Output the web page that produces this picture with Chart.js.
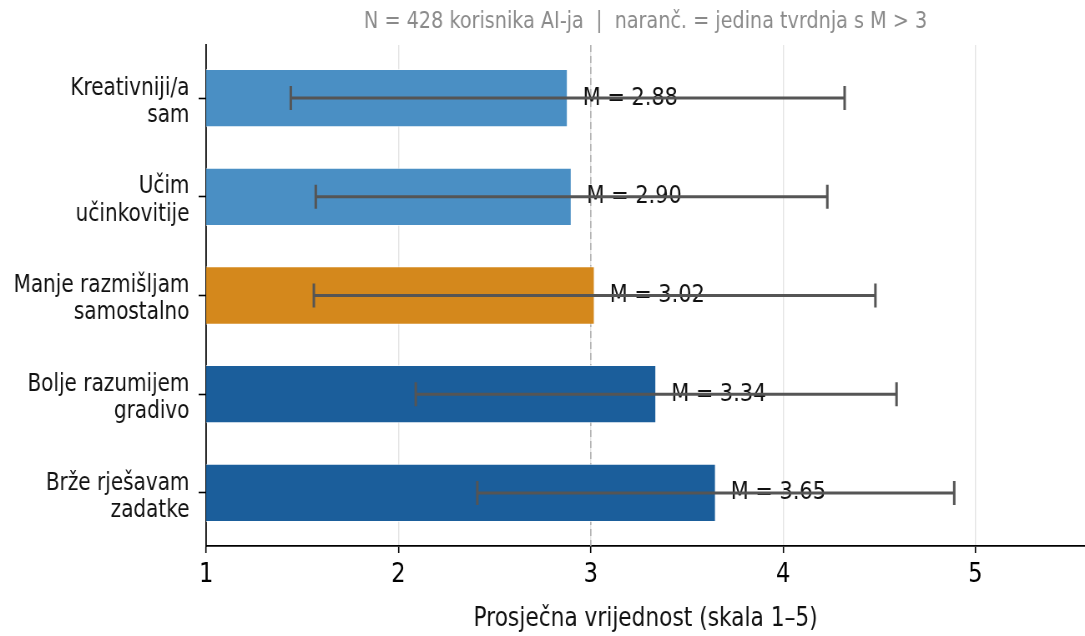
<!DOCTYPE html>
<html>
<head>
<meta charset="utf-8">
<script src="https://cdn.jsdelivr.net/npm/chart.js@4/dist/chart.umd.min.js"></script>
<style>
	html, body { margin: 0; padding: 0; background: #fff; }
	canvas { display: block; }
</style>
</head>
<body>
<!-- canvas is drawn wider and squeezed to 1085px, like the reference -->
<canvas id="mycanvas" width="1300" height="636" style="width:1085px;height:636px"></canvas>
<script>
const categories = [
	['Kreativniji/a', 'sam'],
	['Učim', 'učinkovitije'],
	['Manje razmišljam', 'samostalno'],
	['Bolje razumijem', 'gradivo'],
	['Brže rješavam', 'zadatke'],
];
const means = [2.88, 2.90, 3.02, 3.34, 3.65];
const sds = [1.44, 1.33, 1.46, 1.25, 1.24];
const barColors = ['#4a8fc4', '#4a8fc4', '#d4881c', '#1b5e9b', '#1b5e9b'];
const xTicks = [1, 2, 3, 4, 5];
const refLine = 3;
const subtitle = 'N = 428 korisnika AI-ja  |  naranč. = jedina tvrdnja s M > 3';
const xTitle = 'Prosječna vrijednost (skala 1–5)';

const FONT = 'DejaVu Sans';

// title above the plot area, dashed line at M = 3
const decorPlugin = {
	id: 'decor',
	beforeDatasetsDraw(chart) {
		const { ctx, chartArea, scales } = chart;
		const x = scales.x.getPixelForValue(refLine);
		ctx.save();
		ctx.strokeStyle = '#b0b0b0';
		ctx.lineWidth = 1.5;
		ctx.setLineDash([7, 4]);
		ctx.beginPath();
		ctx.moveTo(x, chartArea.top);
		ctx.lineTo(x, chartArea.bottom);
		ctx.stroke();
		ctx.restore();
	},
	afterDraw(chart) {
		const { ctx, chartArea } = chart;
		ctx.save();
		ctx.fillStyle = '#8a8a8a';
		ctx.font = `23px "${FONT}"`;
		ctx.textAlign = 'center';
		ctx.textBaseline = 'alphabetic';
		ctx.fillText(subtitle, (chartArea.left + chartArea.right) / 2, 28);
		ctx.restore();
	},
};

// "M = x.xx" labels and the ±SD whiskers on top of them
const errorBarPlugin = {
	id: 'errorBars',
	afterDatasetsDraw(chart) {
		const { ctx, scales } = chart;
		const xs = scales.x;
		const ys = scales.y;
		ctx.save();
		ctx.font = `25px "${FONT}"`;
		ctx.fillStyle = '#111';
		ctx.textAlign = 'left';
		ctx.textBaseline = 'middle';
		means.forEach((m, i) => {
			const y = ys.getPixelForValue(i);
			ctx.fillText('M = ' + m.toFixed(2), xs.getPixelForValue(m) + 18, y);
		});
		ctx.strokeStyle = '#555';
		ctx.lineWidth = 3;
		means.forEach((m, i) => {
			const y = ys.getPixelForValue(i);
			const x0 = xs.getPixelForValue(m - sds[i]);
			const x1 = xs.getPixelForValue(m + sds[i]);
			ctx.beginPath();
			ctx.moveTo(x0, y);
			ctx.lineTo(x1, y);
			ctx.moveTo(x0, y - 12);
			ctx.lineTo(x0, y + 12);
			ctx.moveTo(x1, y - 12);
			ctx.lineTo(x1, y + 12);
			ctx.stroke();
		});
		ctx.restore();
	},
};

new Chart(document.getElementById('mycanvas'), {
	type: 'bar',
	data: {
		datasets: [
			{
				data: means.map((m, i) => ({ x: m, y: i })),
				backgroundColor: barColors,
				borderColor: 'rgba(255,255,255,0.7)',
				borderWidth: 1,
				borderSkipped: false,
				barPercentage: 0.59,
				categoryPercentage: 1,
			},
		],
	},
	options: {
		indexAxis: 'y',
		responsive: false,
		animation: false,
		devicePixelRatio: 1,
		layout: { padding: { top: 45, right: 0, left: 0, bottom: 0 } },
		plugins: {
			legend: { display: false },
			tooltip: { enabled: false },
		},
		scales: {
			x: {
				type: 'linear',
				min: 1,
				max: 5.57,
				afterBuildTicks: (axis) => {
					axis.ticks = xTicks.map((v) => ({ value: v }));
				},
				afterFit: (axis) => {
					axis.height = 90;
				},
				grid: {
					color: (c) => (c.tick && c.tick.value === 1 ? 'rgba(0,0,0,0)' : '#e4e4e4'),
					lineWidth: 1.4,
					tickColor: '#000',
					tickLength: 7,
					tickWidth: 1.6,
				},
				border: { color: '#000', width: 1.8 },
				ticks: {
					color: '#000',
					font: { family: FONT, size: 27 },
					padding: 6,
					maxRotation: 0,
				},
				title: {
					display: true,
					text: xTitle,
					color: '#111',
					font: { family: FONT, size: 26 },
					padding: { top: 0, bottom: 1 },
				},
			},
			y: {
				type: 'linear',
				reverse: true,
				offset: false,
				min: -0.537,
				max: 4.537,
				afterBuildTicks: (axis) => {
					axis.ticks = categories.map((c, i) => ({ value: i }));
				},
				afterFit: (axis) => {
					axis.width = 247;
				},
				grid: {
					offset: false,
					drawOnChartArea: false,
					tickColor: '#000',
					tickLength: 9,
					tickWidth: 1.6,
				},
				border: { color: '#000', width: 1.8 },
				ticks: {
					color: '#111',
					font: { family: FONT, size: 24, lineHeight: 1.13 },
					padding: 11,
					labelOffset: 4,
					callback: (v) => categories[v] || '',
				},
			},
		},
	},
	plugins: [decorPlugin, errorBarPlugin],
});
</script>
</body>
</html>
